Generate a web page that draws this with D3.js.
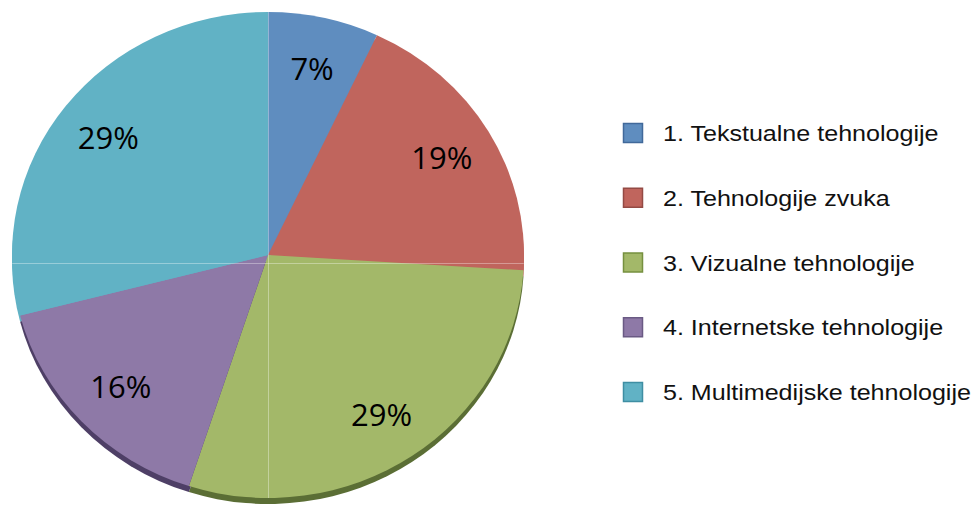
<!DOCTYPE html>
<html>
<head>
<meta charset="utf-8">
<script src="https://cdn.jsdelivr.net/npm/d3@7"></script>
<style>
  body { margin: 0; background: #fff; }
  svg { display: block; }
</style>
</head>
<body>
<svg id="chart" width="978" height="514"></svg>
<script>
// chart data
var categories = ["1. Tekstualne tehnologije", "2. Tehnologije zvuka", "3. Vizualne tehnologije",
                  "4. Internetske tehnologije", "5. Multimedijske tehnologije"];
var shares = [7, 19, 29, 16, 29];
var colors = ["#5f8dbf", "#c0655d", "#a3b869", "#8e79a7", "#61b2c5"];
var edgeColors = ["#41699a", "#944a44", "#76903f", "#6a5a84", "#3f8ea3"];
var shadowColors = ["#5f8dbf", "#c0655d", "#5b6e35", "#4e3f66", "#61b2c5"];

var width = 978, height = 514;
var cx = 268, cy = 255, rx = 256, ry = 243;

var svg = d3.select("#chart");

var pie = d3.pie().sort(null).value(function(d) { return d; });
var arcs = pie(shares);
var arc = d3.arc().innerRadius(0).outerRadius(rx);
var labelArc = d3.arc().innerRadius(202).outerRadius(202);

svg.append("clipPath").attr("id", "pieclip")
    .append("ellipse").attr("cx", cx).attr("cy", cy).attr("rx", rx).attr("ry", ry);

// darker copy, pushed down a bit, gives the thick bottom edge
var shadow = svg.append("g")
    .attr("transform", "translate(" + cx + "," + (cy + 6) + ") scale(1," + (ry / rx) + ")");
shadow.selectAll("path")
    .data(arcs)
    .enter()
    .append("path")
    .attr("d", arc)
    .attr("fill", function(d, i) { return shadowColors[i]; });

var g = svg.append("g")
    .attr("transform", "translate(" + cx + "," + cy + ") scale(1," + (ry / rx) + ")");
g.selectAll("path")
    .data(arcs)
    .enter()
    .append("path")
    .attr("d", arc)
    .attr("fill", function(d, i) { return colors[i]; });

// faint seam lines across the pie
var seams = svg.append("g").attr("clip-path", "url(#pieclip)")
    .attr("stroke", "#ffffff").attr("stroke-opacity", 0.35).attr("stroke-width", 1);
seams.append("line").attr("x1", cx + 0.5).attr("x2", cx + 0.5).attr("y1", 0).attr("y2", height);
seams.append("line").attr("x1", 0).attr("x2", cx + rx).attr("y1", 263.5).attr("y2", 263.5);

// percentage labels
svg.selectAll("text.pct")
    .data(arcs)
    .enter()
    .append("text")
    .attr("class", "pct")
    .attr("x", function(d) { return cx + labelArc.centroid(d)[0]; })
    .attr("y", function(d) { return cy + labelArc.centroid(d)[1] * ry / rx; })
    .attr("text-anchor", "middle")
    .attr("dominant-baseline", "central")
    .style("font-family", "'Open Sans', 'Noto Sans', sans-serif")
    .style("font-size", "31px")
    .attr("fill", "#000")
    .text(function(d) { return d.data + "%"; });

// legend
var legendY = d3.scalePoint()
    .domain(categories)
    .range([133, 392]);

var legend = svg.selectAll("g.legend")
    .data(categories)
    .enter()
    .append("g")
    .attr("class", "legend")
    .attr("transform", function(d) { return "translate(623," + legendY(d) + ")"; });

legend.append("rect")
    .attr("x", 0.5).attr("y", -9.5)
    .attr("width", 19).attr("height", 19)
    .attr("fill", function(d, i) { return colors[i]; })
    .attr("stroke", function(d, i) { return edgeColors[i]; })
    .attr("stroke-width", 1.5);

legend.append("text")
    .attr("transform", "translate(40,8) scale(1.14,1)")
    .style("font-family", "'Liberation Sans', Arial, sans-serif")
    .style("font-size", "22px")
    .attr("fill", "#111")
    .text(function(d) { return d; });
</script>
</body>
</html>
